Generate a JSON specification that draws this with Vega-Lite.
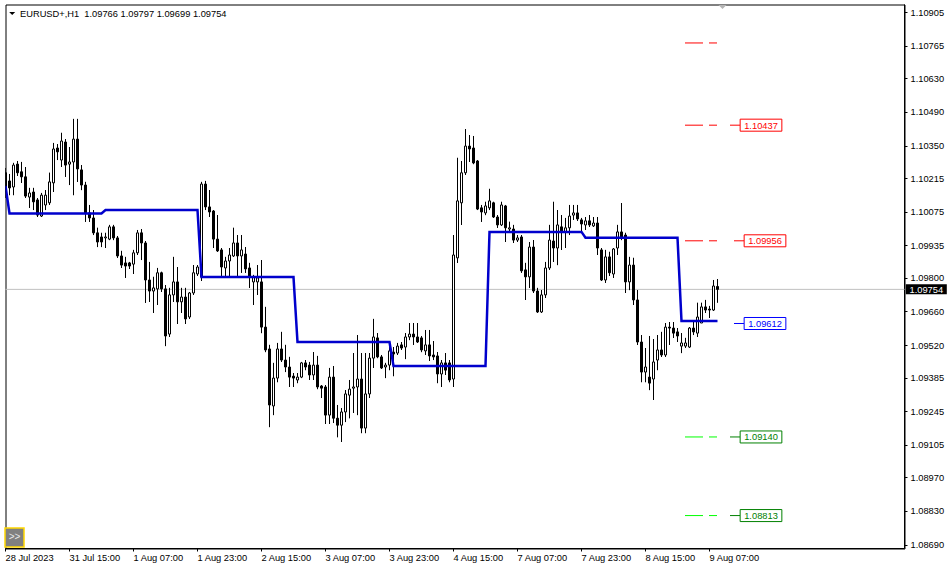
{
"$schema":"https://vega.github.io/schema/vega-lite/v6.json",
"width":899,"height":544,"autosize":"none",
"padding":{"left":5.5,"top":4.5,"right":47.5,"bottom":22.5},
"background":"white",
"config":{"view":{"stroke":"black","strokeWidth":1},
 "axis":{"grid":false,"tickSize":3,"tickColor":"black","domainColor":"black","labelFont":"Liberation Sans","labelFontSize":9.3,"labelColor":"black","labelOverlap":false,"labelFlush":false}},
"datasets":{
"bars":[
{"i":0,"o":1.10239,"h":1.10259,"l":1.10134,"c":1.10159,"lv":1.10184},
{"i":1,"o":1.10205,"h":1.10234,"l":1.10146,"c":1.10176,"lv":1.1007},
{"i":2,"o":1.1018,"h":1.1028,"l":1.10146,"c":1.10271,"lv":1.1007},
{"i":3,"o":1.10275,"h":1.10288,"l":1.10226,"c":1.10239,"lv":1.1007},
{"i":4,"o":1.10243,"h":1.10284,"l":1.10197,"c":1.10222,"lv":1.1007},
{"i":5,"o":1.10222,"h":1.10263,"l":1.10134,"c":1.10142,"lv":1.1007},
{"i":6,"o":1.10138,"h":1.10176,"l":1.10093,"c":1.10155,"lv":1.1007},
{"i":7,"o":1.10159,"h":1.10176,"l":1.10084,"c":1.10118,"lv":1.1007},
{"i":8,"o":1.10126,"h":1.10134,"l":1.10055,"c":1.10063,"lv":1.1007},
{"i":9,"o":1.10059,"h":1.10155,"l":1.10055,"c":1.10146,"lv":1.1007},
{"i":10,"o":1.10105,"h":1.10167,"l":1.10084,"c":1.10146,"lv":1.1007},
{"i":11,"o":1.10114,"h":1.10239,"l":1.10105,"c":1.10201,"lv":1.1007},
{"i":12,"o":1.10197,"h":1.10363,"l":1.10159,"c":1.10338,"lv":1.1007},
{"i":13,"o":1.10342,"h":1.10358,"l":1.10292,"c":1.10326,"lv":1.1007},
{"i":14,"o":1.10292,"h":1.10405,"l":1.10263,"c":1.10371,"lv":1.1007},
{"i":15,"o":1.10367,"h":1.10379,"l":1.10222,"c":1.10271,"lv":1.1007},
{"i":16,"o":1.10275,"h":1.10346,"l":1.10188,"c":1.10284,"lv":1.1007},
{"i":17,"o":1.10284,"h":1.10463,"l":1.10146,"c":1.10379,"lv":1.1007},
{"i":18,"o":1.10379,"h":1.10463,"l":1.10201,"c":1.10255,"lv":1.1007},
{"i":19,"o":1.10251,"h":1.10271,"l":1.10167,"c":1.10188,"lv":1.1007},
{"i":20,"o":1.10188,"h":1.10201,"l":1.10035,"c":1.10072,"lv":1.1007},
{"i":21,"o":1.10072,"h":1.10105,"l":1.10035,"c":1.10051,"lv":1.1007},
{"i":22,"o":1.10051,"h":1.10084,"l":1.0998,"c":1.09989,"lv":1.1007},
{"i":23,"o":1.09989,"h":1.1001,"l":1.0993,"c":1.09951,"lv":1.1007},
{"i":24,"o":1.09972,"h":1.09989,"l":1.0993,"c":1.09951,"lv":1.1007},
{"i":25,"o":1.09968,"h":1.09989,"l":1.09926,"c":1.09972,"lv":1.10084},
{"i":26,"o":1.09963,"h":1.10022,"l":1.09959,"c":1.10014,"lv":1.10084},
{"i":27,"o":1.10014,"h":1.10022,"l":1.09959,"c":1.09968,"lv":1.10084},
{"i":28,"o":1.09968,"h":1.09976,"l":1.09885,"c":1.09893,"lv":1.10084},
{"i":29,"o":1.09893,"h":1.09914,"l":1.09843,"c":1.09855,"lv":1.10084},
{"i":30,"o":1.09864,"h":1.09889,"l":1.09802,"c":1.09851,"lv":1.10084},
{"i":31,"o":1.09864,"h":1.09868,"l":1.09839,"c":1.09851,"lv":1.10084},
{"i":32,"o":1.09859,"h":1.09918,"l":1.09818,"c":1.09906,"lv":1.10084},
{"i":33,"o":1.09906,"h":1.10001,"l":1.09897,"c":1.09989,"lv":1.10084},
{"i":34,"o":1.09989,"h":1.10005,"l":1.09876,"c":1.09947,"lv":1.10084},
{"i":35,"o":1.09947,"h":1.09955,"l":1.09698,"c":1.09793,"lv":1.10084},
{"i":36,"o":1.09793,"h":1.09868,"l":1.09702,"c":1.09747,"lv":1.10084},
{"i":37,"o":1.09747,"h":1.09806,"l":1.09656,"c":1.0976,"lv":1.10084},
{"i":38,"o":1.09756,"h":1.09843,"l":1.09689,"c":1.09823,"lv":1.10084},
{"i":39,"o":1.09823,"h":1.09827,"l":1.09743,"c":1.09756,"lv":1.10084},
{"i":40,"o":1.09756,"h":1.09772,"l":1.09518,"c":1.0956,"lv":1.10084},
{"i":41,"o":1.09568,"h":1.0976,"l":1.09556,"c":1.09731,"lv":1.10084},
{"i":42,"o":1.09731,"h":1.09889,"l":1.09702,"c":1.09785,"lv":1.10084},
{"i":43,"o":1.09785,"h":1.09847,"l":1.0961,"c":1.09702,"lv":1.10084},
{"i":44,"o":1.09702,"h":1.0976,"l":1.09656,"c":1.09722,"lv":1.10084},
{"i":45,"o":1.09722,"h":1.0976,"l":1.0961,"c":1.09631,"lv":1.10084},
{"i":46,"o":1.09639,"h":1.09743,"l":1.09631,"c":1.09739,"lv":1.10084},
{"i":47,"o":1.09739,"h":1.09855,"l":1.09731,"c":1.09823,"lv":1.10084},
{"i":48,"o":1.09818,"h":1.09855,"l":1.0981,"c":1.09847,"lv":1.10084},
{"i":49,"o":1.09806,"h":1.10201,"l":1.09789,"c":1.10192,"lv":1.09805},
{"i":50,"o":1.10192,"h":1.10205,"l":1.10084,"c":1.10097,"lv":1.09805},
{"i":51,"o":1.10097,"h":1.10167,"l":1.10055,"c":1.10076,"lv":1.09805},
{"i":52,"o":1.1008,"h":1.10084,"l":1.09926,"c":1.09963,"lv":1.09805},
{"i":53,"o":1.09963,"h":1.10063,"l":1.0991,"c":1.09914,"lv":1.09805},
{"i":54,"o":1.09918,"h":1.09926,"l":1.09806,"c":1.09847,"lv":1.09805},
{"i":55,"o":1.09843,"h":1.09889,"l":1.09806,"c":1.09872,"lv":1.09805},
{"i":56,"o":1.09872,"h":1.09926,"l":1.09806,"c":1.09897,"lv":1.09805},
{"i":57,"o":1.09893,"h":1.1001,"l":1.09889,"c":1.09947,"lv":1.09805},
{"i":58,"o":1.09947,"h":1.0998,"l":1.09806,"c":1.09893,"lv":1.09805},
{"i":59,"o":1.09893,"h":1.0998,"l":1.09823,"c":1.09918,"lv":1.09805},
{"i":60,"o":1.09901,"h":1.0993,"l":1.09823,"c":1.09839,"lv":1.09805},
{"i":61,"o":1.09843,"h":1.09864,"l":1.0976,"c":1.09806,"lv":1.09805},
{"i":62,"o":1.09785,"h":1.09814,"l":1.09689,"c":1.09806,"lv":1.09805},
{"i":63,"o":1.09785,"h":1.09855,"l":1.09731,"c":1.09802,"lv":1.09805},
{"i":64,"o":1.09785,"h":1.09876,"l":1.09572,"c":1.09597,"lv":1.09805},
{"i":65,"o":1.09597,"h":1.09681,"l":1.09493,"c":1.09502,"lv":1.09805},
{"i":66,"o":1.09506,"h":1.09523,"l":1.09181,"c":1.09273,"lv":1.09805},
{"i":67,"o":1.09269,"h":1.09448,"l":1.09231,"c":1.09385,"lv":1.09805},
{"i":68,"o":1.09385,"h":1.09531,"l":1.09368,"c":1.09506,"lv":1.09805},
{"i":69,"o":1.09506,"h":1.09577,"l":1.09452,"c":1.0946,"lv":1.09805},
{"i":70,"o":1.0946,"h":1.09523,"l":1.0941,"c":1.09431,"lv":1.09805},
{"i":71,"o":1.09431,"h":1.09473,"l":1.09348,"c":1.09389,"lv":1.09805},
{"i":72,"o":1.09393,"h":1.09406,"l":1.09348,"c":1.09385,"lv":1.09805},
{"i":73,"o":1.09377,"h":1.09406,"l":1.09364,"c":1.09389,"lv":1.09535},
{"i":74,"o":1.09389,"h":1.09452,"l":1.09385,"c":1.09448,"lv":1.09535},
{"i":75,"o":1.09448,"h":1.0946,"l":1.09418,"c":1.09431,"lv":1.09535},
{"i":76,"o":1.09439,"h":1.09452,"l":1.09377,"c":1.09398,"lv":1.09535},
{"i":77,"o":1.09398,"h":1.09493,"l":1.09377,"c":1.09439,"lv":1.09535},
{"i":78,"o":1.09439,"h":1.09477,"l":1.09339,"c":1.09348,"lv":1.09535},
{"i":79,"o":1.09352,"h":1.09356,"l":1.09302,"c":1.09343,"lv":1.09535},
{"i":80,"o":1.09348,"h":1.09356,"l":1.09194,"c":1.09231,"lv":1.09535},
{"i":81,"o":1.09231,"h":1.09427,"l":1.09194,"c":1.09389,"lv":1.09535},
{"i":82,"o":1.09389,"h":1.09435,"l":1.09198,"c":1.09218,"lv":1.09535},
{"i":83,"o":1.09218,"h":1.09273,"l":1.09139,"c":1.09189,"lv":1.09535},
{"i":84,"o":1.09189,"h":1.0926,"l":1.09119,"c":1.09244,"lv":1.09535},
{"i":85,"o":1.09244,"h":1.09335,"l":1.09202,"c":1.09319,"lv":1.09535},
{"i":86,"o":1.09314,"h":1.09377,"l":1.09218,"c":1.09339,"lv":1.09535},
{"i":87,"o":1.09343,"h":1.09489,"l":1.0924,"c":1.09348,"lv":1.09535},
{"i":88,"o":1.09348,"h":1.09564,"l":1.09231,"c":1.09381,"lv":1.09535},
{"i":89,"o":1.09381,"h":1.09489,"l":1.09156,"c":1.09177,"lv":1.09535},
{"i":90,"o":1.09177,"h":1.09489,"l":1.09156,"c":1.09319,"lv":1.09535},
{"i":91,"o":1.09319,"h":1.09489,"l":1.09302,"c":1.09468,"lv":1.09535},
{"i":92,"o":1.09468,"h":1.09631,"l":1.09427,"c":1.09556,"lv":1.09535},
{"i":93,"o":1.09552,"h":1.09572,"l":1.09468,"c":1.09473,"lv":1.09535},
{"i":94,"o":1.09473,"h":1.09481,"l":1.09423,"c":1.09427,"lv":1.09535},
{"i":95,"o":1.09431,"h":1.09448,"l":1.09385,"c":1.09439,"lv":1.09535},
{"i":96,"o":1.09439,"h":1.09535,"l":1.09418,"c":1.09498,"lv":1.09535},
{"i":97,"o":1.09493,"h":1.09514,"l":1.09393,"c":1.09485,"lv":1.09435},
{"i":98,"o":1.09489,"h":1.09531,"l":1.09481,"c":1.09518,"lv":1.09435},
{"i":99,"o":1.09523,"h":1.09535,"l":1.09502,"c":1.0951,"lv":1.09435},
{"i":100,"o":1.09514,"h":1.09572,"l":1.09464,"c":1.09556,"lv":1.09435},
{"i":101,"o":1.09556,"h":1.09614,"l":1.09543,"c":1.09568,"lv":1.09435},
{"i":102,"o":1.09568,"h":1.09614,"l":1.09523,"c":1.09556,"lv":1.09435},
{"i":103,"o":1.09556,"h":1.09614,"l":1.09531,"c":1.09535,"lv":1.09435},
{"i":104,"o":1.09552,"h":1.0956,"l":1.09493,"c":1.09502,"lv":1.09435},
{"i":105,"o":1.09498,"h":1.09585,"l":1.09481,"c":1.09523,"lv":1.09435},
{"i":106,"o":1.09523,"h":1.09585,"l":1.09456,"c":1.09477,"lv":1.09435},
{"i":107,"o":1.09481,"h":1.09539,"l":1.0946,"c":1.09473,"lv":1.09435},
{"i":108,"o":1.09477,"h":1.09493,"l":1.09364,"c":1.09402,"lv":1.09435},
{"i":109,"o":1.09402,"h":1.0946,"l":1.09348,"c":1.09448,"lv":1.09435},
{"i":110,"o":1.09448,"h":1.09489,"l":1.09398,"c":1.09418,"lv":1.09435},
{"i":111,"o":1.09448,"h":1.0946,"l":1.09368,"c":1.09377,"lv":1.09435},
{"i":112,"o":1.09381,"h":1.0998,"l":1.09348,"c":1.09897,"lv":1.09435},
{"i":113,"o":1.09885,"h":1.10301,"l":1.09864,"c":1.10122,"lv":1.09435},
{"i":114,"o":1.10114,"h":1.10288,"l":1.10022,"c":1.10239,"lv":1.09435},
{"i":115,"o":1.10239,"h":1.10421,"l":1.1023,"c":1.1035,"lv":1.09435},
{"i":116,"o":1.1035,"h":1.10396,"l":1.10284,"c":1.10338,"lv":1.09435},
{"i":117,"o":1.10342,"h":1.10392,"l":1.10275,"c":1.1028,"lv":1.09435},
{"i":118,"o":1.10288,"h":1.10292,"l":1.10084,"c":1.10088,"lv":1.09435},
{"i":119,"o":1.10093,"h":1.10105,"l":1.10035,"c":1.10076,"lv":1.09435},
{"i":120,"o":1.10072,"h":1.10118,"l":1.10063,"c":1.10101,"lv":1.09435},
{"i":121,"o":1.10093,"h":1.10172,"l":1.10084,"c":1.10122,"lv":1.09993},
{"i":122,"o":1.10114,"h":1.10118,"l":1.10051,"c":1.10055,"lv":1.09993},
{"i":123,"o":1.10055,"h":1.10063,"l":1.1001,"c":1.10022,"lv":1.09993},
{"i":124,"o":1.10022,"h":1.10118,"l":1.10018,"c":1.10105,"lv":1.09993},
{"i":125,"o":1.10101,"h":1.10105,"l":1.09951,"c":1.1001,"lv":1.09993},
{"i":126,"o":1.10005,"h":1.10035,"l":1.09993,"c":1.1001,"lv":1.09993},
{"i":127,"o":1.10005,"h":1.10022,"l":1.09947,"c":1.09959,"lv":1.09993},
{"i":128,"o":1.09959,"h":1.0998,"l":1.09951,"c":1.09968,"lv":1.09993},
{"i":129,"o":1.09972,"h":1.0998,"l":1.09823,"c":1.09831,"lv":1.09993},
{"i":130,"o":1.09835,"h":1.09864,"l":1.0971,"c":1.09806,"lv":1.09993},
{"i":131,"o":1.09806,"h":1.09951,"l":1.0976,"c":1.0993,"lv":1.09993},
{"i":132,"o":1.0993,"h":1.09959,"l":1.09739,"c":1.09747,"lv":1.09993},
{"i":133,"o":1.09747,"h":1.0976,"l":1.09656,"c":1.0966,"lv":1.09993},
{"i":134,"o":1.0966,"h":1.09751,"l":1.09656,"c":1.09731,"lv":1.09993},
{"i":135,"o":1.09731,"h":1.09868,"l":1.09718,"c":1.09843,"lv":1.09993},
{"i":136,"o":1.09843,"h":1.10022,"l":1.09835,"c":1.09959,"lv":1.09993},
{"i":137,"o":1.09955,"h":1.10118,"l":1.09868,"c":1.09926,"lv":1.09993},
{"i":138,"o":1.09926,"h":1.10084,"l":1.09855,"c":1.10022,"lv":1.09993},
{"i":139,"o":1.10014,"h":1.10063,"l":1.09918,"c":1.09993,"lv":1.09993},
{"i":140,"o":1.09993,"h":1.10051,"l":1.09926,"c":1.1001,"lv":1.09993},
{"i":141,"o":1.1001,"h":1.10105,"l":1.0998,"c":1.10059,"lv":1.09993},
{"i":142,"o":1.10063,"h":1.10105,"l":1.10043,"c":1.10072,"lv":1.09993},
{"i":143,"o":1.10072,"h":1.10105,"l":1.10039,"c":1.10047,"lv":1.09993},
{"i":144,"o":1.10043,"h":1.10051,"l":1.09993,"c":1.10026,"lv":1.09993},
{"i":145,"o":1.10022,"h":1.10055,"l":1.10001,"c":1.10039,"lv":1.09969},
{"i":146,"o":1.10039,"h":1.10063,"l":1.10014,"c":1.10022,"lv":1.09969},
{"i":147,"o":1.10018,"h":1.10055,"l":1.10014,"c":1.1003,"lv":1.09969},
{"i":148,"o":1.1003,"h":1.10055,"l":1.09897,"c":1.09926,"lv":1.09969},
{"i":149,"o":1.09918,"h":1.09926,"l":1.09789,"c":1.09793,"lv":1.09969},
{"i":150,"o":1.09793,"h":1.09918,"l":1.09781,"c":1.09889,"lv":1.09969},
{"i":151,"o":1.09889,"h":1.0991,"l":1.0981,"c":1.09823,"lv":1.09969},
{"i":152,"o":1.09818,"h":1.09926,"l":1.09802,"c":1.09922,"lv":1.09969},
{"i":153,"o":1.09926,"h":1.10022,"l":1.09897,"c":1.09993,"lv":1.09969},
{"i":154,"o":1.09993,"h":1.10113,"l":1.09959,"c":1.09972,"lv":1.09969},
{"i":155,"o":1.0998,"h":1.09989,"l":1.09739,"c":1.09785,"lv":1.09969},
{"i":156,"o":1.09785,"h":1.09889,"l":1.09751,"c":1.09855,"lv":1.09969},
{"i":157,"o":1.09855,"h":1.09885,"l":1.09689,"c":1.0971,"lv":1.09969},
{"i":158,"o":1.0971,"h":1.09751,"l":1.09523,"c":1.09535,"lv":1.09969},
{"i":159,"o":1.09535,"h":1.09564,"l":1.09368,"c":1.0941,"lv":1.09969},
{"i":160,"o":1.0941,"h":1.0951,"l":1.09368,"c":1.09431,"lv":1.09969},
{"i":161,"o":1.09389,"h":1.0956,"l":1.09335,"c":1.09364,"lv":1.09969},
{"i":162,"o":1.09381,"h":1.09547,"l":1.09294,"c":1.09452,"lv":1.09969},
{"i":163,"o":1.0946,"h":1.09564,"l":1.09418,"c":1.09502,"lv":1.09969},
{"i":164,"o":1.09502,"h":1.09577,"l":1.09473,"c":1.09481,"lv":1.09969},
{"i":165,"o":1.09481,"h":1.09614,"l":1.09473,"c":1.09597,"lv":1.09969},
{"i":166,"o":1.09597,"h":1.09618,"l":1.09523,"c":1.09593,"lv":1.09969},
{"i":167,"o":1.09593,"h":1.09618,"l":1.09552,"c":1.09572,"lv":1.09969},
{"i":168,"o":1.09577,"h":1.09593,"l":1.09535,"c":1.0956,"lv":1.09969},
{"i":169,"o":1.09518,"h":1.09572,"l":1.09489,"c":1.09531,"lv":1.09622},
{"i":170,"o":1.09518,"h":1.09552,"l":1.0951,"c":1.09531,"lv":1.09622},
{"i":171,"o":1.09514,"h":1.09597,"l":1.0951,"c":1.09593,"lv":1.09622},
{"i":172,"o":1.09593,"h":1.09618,"l":1.09564,"c":1.09577,"lv":1.09622},
{"i":173,"o":1.09572,"h":1.09698,"l":1.09556,"c":1.09639,"lv":1.09622},
{"i":174,"o":1.09614,"h":1.09698,"l":1.09614,"c":1.09681,"lv":1.09622},
{"i":175,"o":1.09681,"h":1.0971,"l":1.09656,"c":1.09668,"lv":1.09622},
{"i":176,"o":1.09672,"h":1.09685,"l":1.09635,"c":1.09668,"lv":1.09622},
{"i":177,"o":1.09668,"h":1.09793,"l":1.09664,"c":1.09768,"lv":1.09622},
{"i":178,"o":1.09766,"h":1.09797,"l":1.09699,"c":1.09754,"lv":1.09622}
],
"levels":[
{"v":1.10779,"k":"R","g":"n","lab":""},
{"v":1.10437,"k":"R","g":"a","lab":"1.10437"},
{"v":1.09956,"k":"R","g":"b","lab":"1.09956"},
{"v":1.09612,"k":"P","g":"b","lab":"1.09612"},
{"v":1.0914,"k":"S","g":"a","lab":"1.09140"},
{"v":1.08813,"k":"S","g":"a","lab":"1.08813"}
]
},
"data":{"name":"bars"},
"layer":[
{"mark":{"type":"rule","color":"black","strokeWidth":1,"clip":true},
 "encoding":{
  "x":{"field":"i","type":"quantitative","scale":{"domain":[0,224.75],"nice":false,"zero":false,"padding":0},
   "axis":{"orient":"bottom","title":null,"values":[0,16,32,48,64,80,96,112,128,144,160,176],"tickCount":100,
    "labelExpr":"datum.value==0?'28 Jul 2023':datum.value==16?'31 Jul 15:00':datum.value==32?'1 Aug 07:00':datum.value==48?'1 Aug 23:00':datum.value==64?'2 Aug 15:00':datum.value==80?'3 Aug 07:00':datum.value==96?'3 Aug 23:00':datum.value==112?'4 Aug 15:00':datum.value==128?'7 Aug 07:00':datum.value==144?'7 Aug 23:00':datum.value==160?'8 Aug 15:00':'9 Aug 07:00'",
    "labelAlign":"left","labelBaseline":"top","labelPadding":2,"translate":0,"labelOverlap":false,"labelFlush":false}},
  "y":{"field":"l","type":"quantitative","scale":{"domain":[1.08676,1.10939],"nice":false,"zero":false,"padding":0},
   "axis":{"orient":"right","title":null,"values":[1.10905,1.10765,1.1063,1.1049,1.1035,1.10215,1.10075,1.09935,1.098,1.0966,1.0952,1.09385,1.09245,1.09105,1.0897,1.0883,1.0869],"tickCount":100,
    "format":".5f","labelPadding":3,"translate":0,"labelOverlap":false,"labelFlush":false}},
  "y2":{"field":"h"}}},
{"data":{"values":[{"p":1.09754}]},
 "mark":{"type":"rule","color":"#C0C0C0","strokeWidth":1},
 "encoding":{"y":{"field":"p","type":"quantitative"}}},
{"mark":{"type":"rule","color":"black","strokeWidth":1,"clip":true},
 "encoding":{
  "x":{"field":"i","type":"quantitative"},
  "y":{"field":"l","type":"quantitative"},
  "y2":{"field":"h"}}},
{"mark":{"type":"bar","width":2,"stroke":"black","strokeWidth":1,"clip":true},
 "encoding":{
  "x":{"field":"i","type":"quantitative"},
  "y":{"field":"o","type":"quantitative"},
  "y2":{"field":"c"},
  "fill":{"condition":{"test":"datum.c < datum.o","value":"black"},"value":"white"}}},
{"mark":{"type":"line","color":"#0000CC","strokeWidth":2.5,"clip":true},
 "encoding":{"x":{"field":"i","type":"quantitative"},"y":{"field":"lv","type":"quantitative"}}},
{"data":{"name":"levels"},"transform":[{"filter":"datum.k != 'P'"}],
 "mark":{"type":"rule","strokeWidth":1,"strokeDash":[18,6]},
 "encoding":{"x":{"datum":169.875,"type":"quantitative"},"x2":{"datum":177.875},
  "y":{"field":"v","type":"quantitative"},
  "color":{"condition":{"test":"datum.k == 'S'","value":"#00FF00"},"value":"#FF0000"}}},
{"data":{"name":"levels"},"transform":[{"filter":"datum.g == 'a'"}],
 "mark":{"type":"rule","strokeWidth":1},
 "encoding":{"x":{"datum":181.125,"type":"quantitative"},"x2":{"datum":183.625},
  "y":{"field":"v","type":"quantitative"},
  "color":{"condition":[{"test":"datum.k == 'S'","value":"#008000"},{"test":"datum.k == 'P'","value":"#0000FF"}],"value":"#FF0000"}}},
{"data":{"name":"levels"},"transform":[{"filter":"datum.g == 'b'"}],
 "mark":{"type":"rule","strokeWidth":1},
 "encoding":{"x":{"datum":182.125,"type":"quantitative"},"x2":{"datum":184.625},
  "y":{"field":"v","type":"quantitative"},
  "color":{"condition":[{"test":"datum.k == 'S'","value":"#008000"},{"test":"datum.k == 'P'","value":"#0000FF"}],"value":"#FF0000"}}},
{"data":{"name":"levels"},"transform":[{"filter":"datum.g == 'a'"}],
 "mark":{"type":"point","shape":"M-1,-0.288L1,-0.288L1,0.288L-1,0.288Z","size":1739,"filled":false,"strokeWidth":1,"opacity":1},
 "encoding":{"x":{"datum":188.875,"type":"quantitative"},
  "y":{"field":"v","type":"quantitative"},
  "stroke":{"condition":[{"test":"datum.k == 'S'","value":"#008000"},{"test":"datum.k == 'P'","value":"#0000FF"}],"value":"#FF0000"}}},
{"data":{"name":"levels"},"transform":[{"filter":"datum.g == 'b'"}],
 "mark":{"type":"point","shape":"M-1,-0.288L1,-0.288L1,0.288L-1,0.288Z","size":1739,"filled":false,"strokeWidth":1,"opacity":1},
 "encoding":{"x":{"datum":189.875,"type":"quantitative"},
  "y":{"field":"v","type":"quantitative"},
  "stroke":{"condition":[{"test":"datum.k == 'S'","value":"#008000"},{"test":"datum.k == 'P'","value":"#0000FF"}],"value":"#FF0000"}}},
{"data":{"name":"levels"},"transform":[{"filter":"datum.g == 'a'"}],
 "mark":{"type":"text","font":"Liberation Sans","fontSize":9.3,"align":"center","baseline":"middle","dy":0.5},
 "encoding":{"x":{"datum":188.875,"type":"quantitative"},
  "y":{"field":"v","type":"quantitative"},"text":{"field":"lab"},
  "color":{"condition":[{"test":"datum.k == 'S'","value":"#008000"},{"test":"datum.k == 'P'","value":"#0000FF"}],"value":"#FF0000"}}},
{"data":{"name":"levels"},"transform":[{"filter":"datum.g == 'b'"}],
 "mark":{"type":"text","font":"Liberation Sans","fontSize":9.3,"align":"center","baseline":"middle","dy":0.5},
 "encoding":{"x":{"datum":189.875,"type":"quantitative"},
  "y":{"field":"v","type":"quantitative"},"text":{"field":"lab"},
  "color":{"condition":[{"test":"datum.k == 'S'","value":"#008000"},{"test":"datum.k == 'P'","value":"#0000FF"}],"value":"#FF0000"}}},
{"data":{"values":[{"p":1.09754,"lab":"1.09754"}]},
 "mark":{"type":"point","shape":"M-1,-0.244L1,-0.244L1,0.244L-1,0.244Z","size":1681,"filled":true,"color":"black","opacity":1},
 "encoding":{"x":{"datum":230.2,"type":"quantitative"},"y":{"field":"p","type":"quantitative"}}},
{"data":{"values":[{"p":1.09754,"lab":"1.09754"}]},
 "mark":{"type":"text","font":"Liberation Sans","fontSize":9.3,"align":"center","baseline":"middle","color":"white","dy":0.5},
 "encoding":{"x":{"datum":230.2,"type":"quantitative"},"y":{"field":"p","type":"quantitative"},"text":{"field":"lab"}}},
{"data":{"values":[{"t":"EURUSD+,H1\u00a0 1.09766 1.09797 1.09699 1.09754"}]},
 "mark":{"type":"text","font":"Liberation Sans","fontSize":9.3,"align":"left","baseline":"alphabetic","color":"black"},
 "encoding":{"x":{"datum":3.625,"type":"quantitative"},"y":{"datum":1.10889,"type":"quantitative"},"text":{"field":"t"}}},
{"data":{"values":[{"m":"menu"}]},
 "mark":{"type":"point","shape":"M-1,-0.5L1,-0.5L0,0.5Z","size":36,"filled":true,"color":"black","opacity":1},
 "encoding":{"x":{"datum":1.675,"type":"quantitative"},"y":{"datum":1.10902,"type":"quantitative"}}},
{"data":{"values":[{"m":"shift"}]},
 "mark":{"type":"point","shape":"M-1,-0.5L1,-0.5L0,0.5Z","size":64,"filled":true,"color":"#B4B4B4","opacity":1},
 "encoding":{"x":{"datum":179.25,"type":"quantitative"},"y":{"datum":1.10929,"type":"quantitative"}}},
{"data":{"values":[{"m":">>"}]},
 "mark":{"type":"point","shape":"square","size":361,"filled":true,"fill":"#808080","stroke":"#FFD700","strokeWidth":1.5,"opacity":1},
 "encoding":{"x":{"datum":2.25,"type":"quantitative"},"y":{"datum":1.08722,"type":"quantitative"}}},
{"data":{"values":[{"m":">>"}]},
 "mark":{"type":"text","font":"Liberation Sans","fontSize":10,"align":"center","baseline":"middle","color":"#E8E8E8"},
 "encoding":{"x":{"datum":2.25,"type":"quantitative"},"y":{"datum":1.08722,"type":"quantitative"},"text":{"field":"m"}}}
]
}
